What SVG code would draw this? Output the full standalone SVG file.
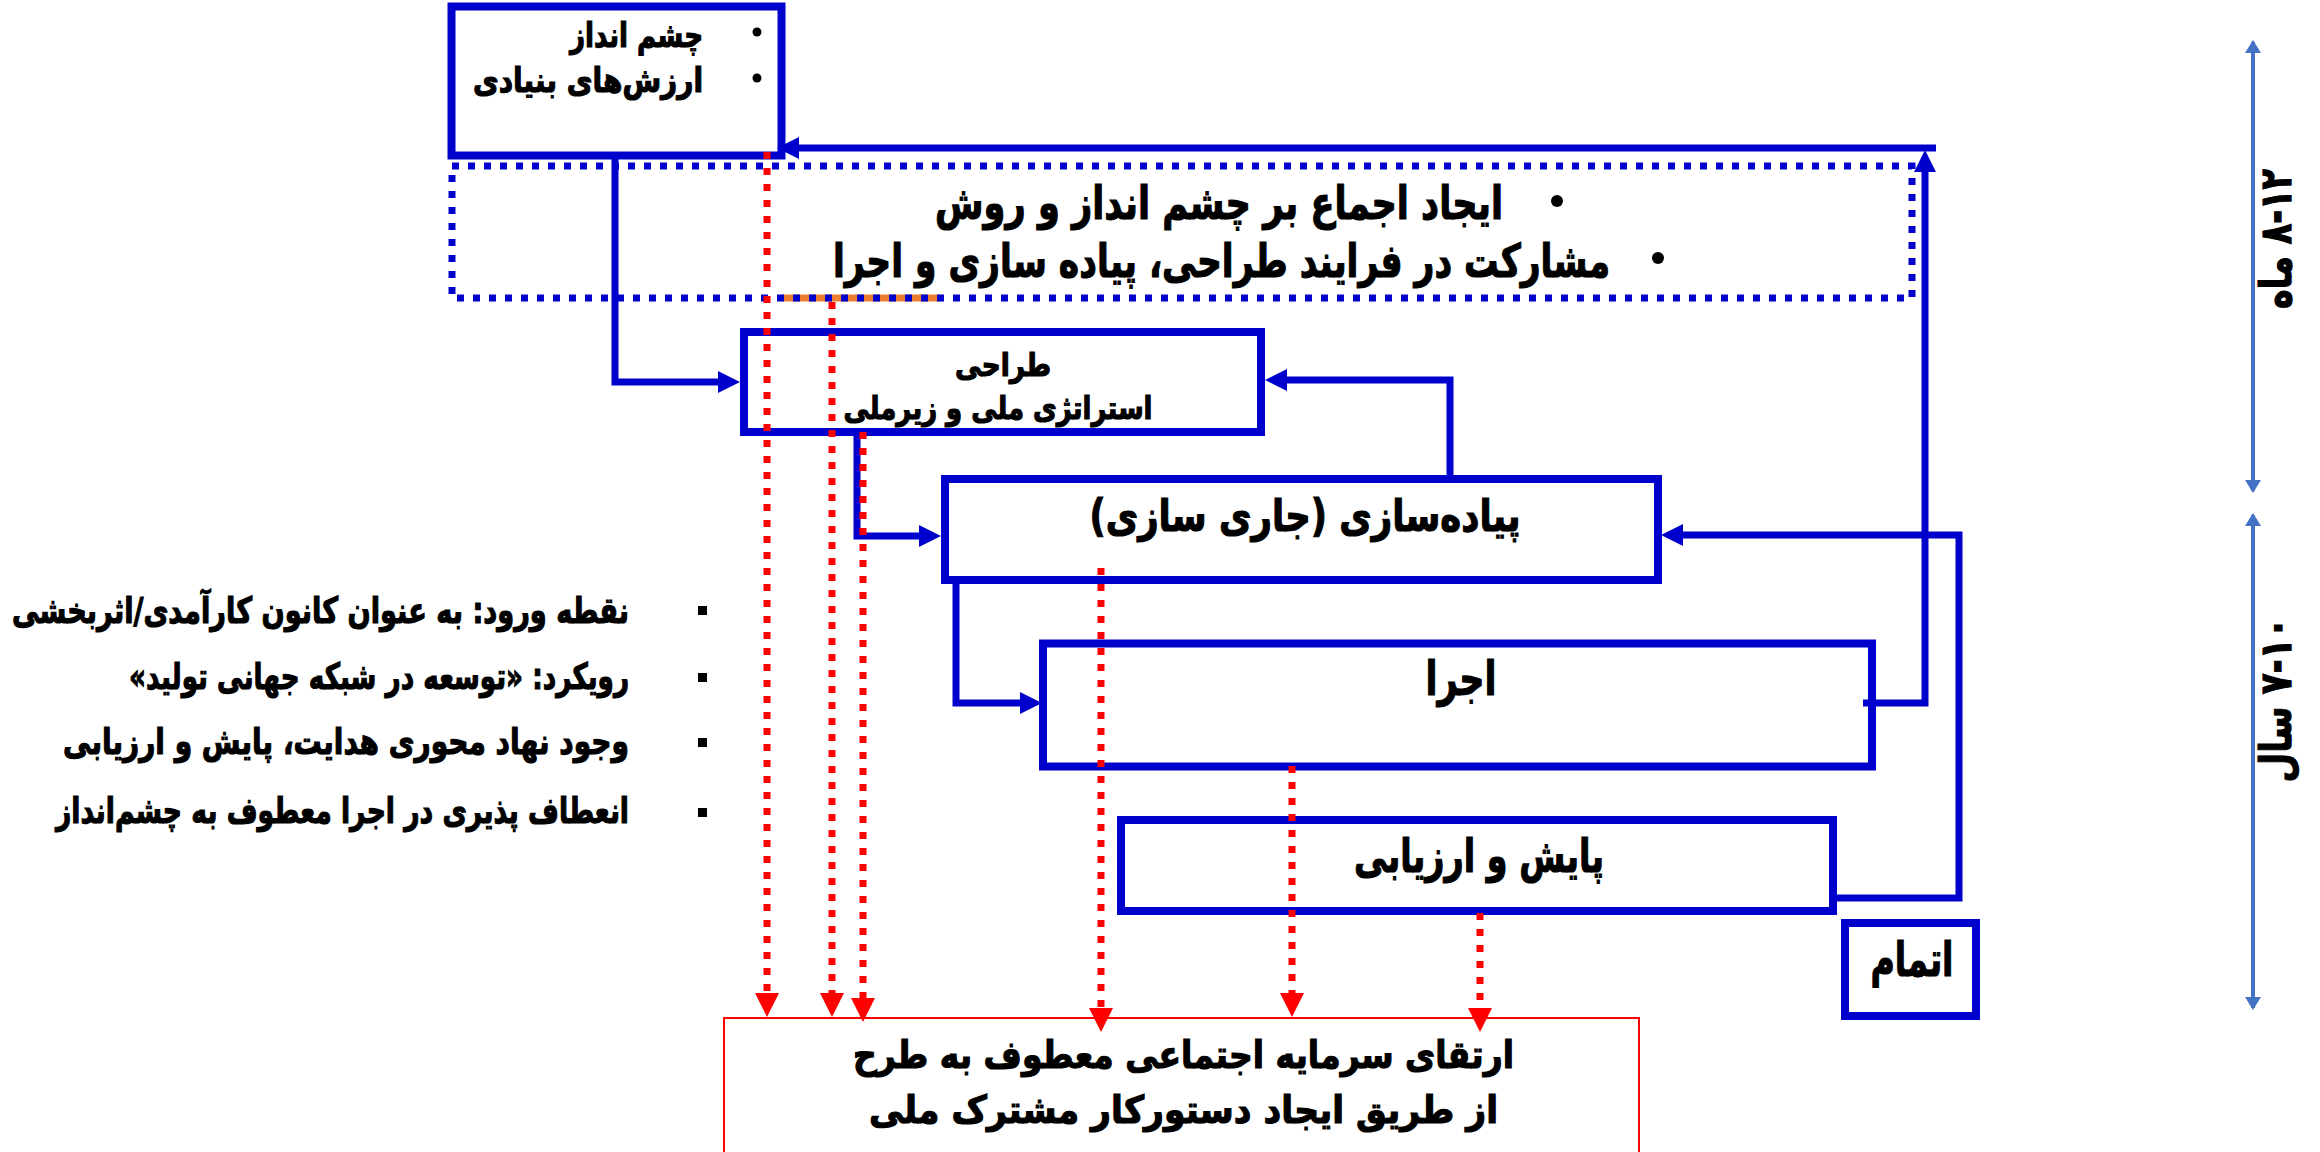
<svg xmlns="http://www.w3.org/2000/svg" width="2320" height="1152" viewBox="0 0 2320 1152">
<style>
.t{font-family:"DejaVu Sans","Noto Sans",sans-serif;font-weight:bold;fill:#000;stroke:#000;stroke-width:1.2px;direction:rtl;text-anchor:middle}
.box{fill:#fff;stroke:#0000CC;stroke-width:8}
.dotbox{fill:none;stroke:#0000CC;stroke-width:7;stroke-dasharray:7 9}
.con{fill:none;stroke:#0000CC;stroke-width:7;stroke-linejoin:miter}
.red{fill:none;stroke:#FF0000;stroke-width:7;stroke-dasharray:7 9}
.tl{fill:none;stroke:#4472C4;stroke-width:4}
</style>
<defs>
<marker id="ab" markerUnits="userSpaceOnUse" markerWidth="22" markerHeight="22" refX="10" refY="11" orient="auto" viewBox="0 0 22 22"><path d="M0,0 L22,11 L0,22 z" fill="#0000CC"/></marker>
<marker id="ar" markerUnits="userSpaceOnUse" markerWidth="24" markerHeight="24" refX="12" refY="12" orient="auto" viewBox="0 0 24 24"><path d="M0,0 L24,12 L0,24 z" fill="#FF0000"/></marker>
<marker id="at" markerUnits="userSpaceOnUse" markerWidth="13" markerHeight="16" refX="11" refY="8" orient="auto-start-reverse" viewBox="0 0 13 16"><path d="M0,0 L13,8 L0,16 z" fill="#4472C4"/></marker>
</defs>
<rect width="2320" height="1152" fill="#fff"/>

<g id="node-vision">
<rect class="box" x="451.5" y="6.5" width="330" height="149"/>
<circle cx="757" cy="32" r="4.5"/>
<circle cx="757" cy="78" r="4.5"/>
<text class="t" x="636.5" y="47" font-size="34" textLength="133" lengthAdjust="spacingAndGlyphs">چشم انداز</text>
<text class="t" x="588" y="92" font-size="34" textLength="230" lengthAdjust="spacingAndGlyphs">ارزش‌های بنیادی</text>
</g>

<g id="node-consensus">
<line x1="782" y1="298" x2="940" y2="298" stroke="#ED7D31" stroke-width="7"/>
<rect class="dotbox" x="452" y="166" width="1460" height="132"/>
<circle cx="1557" cy="201" r="6"/>
<circle cx="1658" cy="258" r="6"/>
<text class="t" x="1219" y="219" font-size="46" textLength="568" lengthAdjust="spacingAndGlyphs">ایجاد اجماع بر چشم انداز و روش</text>
<text class="t" x="1221.5" y="277" font-size="46" textLength="777" lengthAdjust="spacingAndGlyphs">مشارکت در فرایند طراحی، پیاده سازی و اجرا</text>
</g>

<g id="node-design">
<rect class="box" x="744" y="332" width="517" height="100"/>
<text class="t" x="1003" y="376" font-size="32" textLength="96" lengthAdjust="spacingAndGlyphs">طراحی</text>
<text class="t" x="998" y="419" font-size="32" textLength="309" lengthAdjust="spacingAndGlyphs">استراتژی ملی و زیرملی</text>
</g>

<g id="node-implementation">
<rect class="box" x="945" y="479" width="713" height="101"/>
<text class="t" x="1305" y="531" font-size="44" textLength="431" lengthAdjust="spacingAndGlyphs">پیاده‌سازی (جاری سازی)</text>
</g>

<g id="node-execution">
<rect class="box" x="1043" y="643.5" width="829" height="123"/>
<text class="t" x="1461" y="695" font-size="48" textLength="71" lengthAdjust="spacingAndGlyphs">اجرا</text>
</g>

<g id="node-monitoring">
<rect class="box" x="1121" y="820" width="712" height="91"/>
<text class="t" x="1479" y="872" font-size="46" textLength="250" lengthAdjust="spacingAndGlyphs">پایش و ارزیابی</text>
</g>

<g id="node-end">
<rect class="box" x="1845" y="923" width="131" height="93"/>
<text class="t" x="1912" y="976" font-size="48" textLength="83" lengthAdjust="spacingAndGlyphs">اتمام</text>
</g>

<g id="node-outcome">
<rect x="724" y="1018" width="915" height="150" fill="#fff" stroke="#FF0000" stroke-width="2"/>
<text class="t" x="1183.5" y="1068" font-size="38" textLength="661" lengthAdjust="spacingAndGlyphs">ارتقای سرمایه اجتماعی معطوف به طرح</text>
<text class="t" x="1183.5" y="1123" font-size="38" textLength="629" lengthAdjust="spacingAndGlyphs">از طریق ایجاد دستورکار مشترک ملی</text>
</g>

<g id="node-notes">
<rect x="698" y="606" width="9" height="9"/>
<rect x="698" y="673" width="9" height="9"/>
<rect x="698" y="738" width="9" height="9"/>
<rect x="698" y="808" width="9" height="9"/>
<text class="t" x="320.5" y="623" font-size="36" textLength="617" lengthAdjust="spacingAndGlyphs">نقطه ورود:  به عنوان کانون کارآمدی/اثربخشی</text>
<text class="t" x="379" y="689" font-size="36" textLength="500" lengthAdjust="spacingAndGlyphs">رویکرد: «توسعه در شبکه جهانی تولید»</text>
<text class="t" x="346" y="754" font-size="36" textLength="566" lengthAdjust="spacingAndGlyphs">وجود نهاد محوری هدایت، پایش و ارزیابی</text>
<text class="t" x="342.5" y="823" font-size="36" textLength="573" lengthAdjust="spacingAndGlyphs">انعطاف پذیری در اجرا معطوف به چشم‌انداز</text>
</g>

<g id="timeline">
<line class="tl" x1="2253" y1="42" x2="2253" y2="491" marker-start="url(#at)" marker-end="url(#at)"/>
<line class="tl" x1="2253" y1="515" x2="2253" y2="1008" marker-start="url(#at)" marker-end="url(#at)"/>
<text class="t" transform="translate(2291,239) rotate(-90)" font-size="44" textLength="140" lengthAdjust="spacingAndGlyphs">۸-۱۲ ماه</text>
<text class="t" transform="translate(2291,700) rotate(-90)" font-size="44" textLength="165" lengthAdjust="spacingAndGlyphs">۷-۱۰ سال</text>
</g>

<g id="connectors">
<path class="con" d="M615,152 L615,382 L728,382" marker-end="url(#ab)"/>
<path class="con" d="M1450,479 L1450,380 L1277,380" marker-end="url(#ab)"/>
<path class="con" d="M857,436 L857,536 L929,536" marker-end="url(#ab)"/>
<path class="con" d="M956,583 L956,703 L1030,703" marker-end="url(#ab)"/>
<path class="con" d="M1863,703 L1925,703 L1925,162" marker-end="url(#ab)"/>
<path class="con" d="M1936,148 L789,148" marker-end="url(#ab)"/>
<path class="con" d="M1833,898 L1959,898 L1959,535 L1673,535" marker-end="url(#ab)"/>
<path class="red" d="M767,152 L767,1005" marker-end="url(#ar)"/>
<path class="red" d="M832,302 L832,1005" marker-end="url(#ar)"/>
<path class="red" d="M863,432 L863,1010" marker-end="url(#ar)"/>
<path class="red" d="M1101,568 L1101,1020" marker-end="url(#ar)"/>
<path class="red" d="M1292,766 L1292,1005" marker-end="url(#ar)"/>
<path class="red" d="M1480,913 L1480,1020" marker-end="url(#ar)"/>
</g>
</svg>
